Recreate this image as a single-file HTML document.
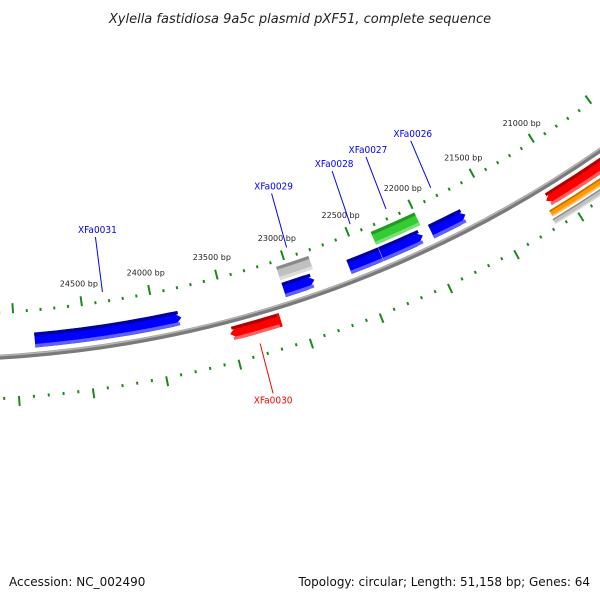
<!DOCTYPE html>
<html><head><meta charset="utf-8"><style>
html,body{margin:0;padding:0;background:#fff;}
svg{display:block;}
</style></head><body>
<svg id="map" width="600" height="600" viewBox="0 0 600 600" xmlns="http://www.w3.org/2000/svg">
<rect width="600" height="600" fill="#fff"/>
<text x="300" y="23" text-anchor="middle" font-family="DejaVu Sans, Liberation Sans, sans-serif" font-style="italic" font-size="13" fill="#222">Xylella fastidiosa 9a5c plasmid pXF51, complete sequence</text>
<text x="9" y="586" font-family="DejaVu Sans, Liberation Sans, sans-serif" font-size="12" fill="#111">Accession: NC_002490</text>
<text x="590" y="586" text-anchor="end" font-family="DejaVu Sans, Liberation Sans, sans-serif" font-size="12" fill="#111">Topology: circular; Length: 51,158 bp; Genes: 64</text>
<g id="layer"></g>
</svg>
<script>
const genomeLength = 51158;
const tickLabelValues = [21000, 21500, 22000, 22500, 23000, 23500, 24000, 24500];
const geneNames  = ["XFa0031","XFa0030","XFa0029","XFa0029b","XFa0028","XFa0027","XFa0027b","XFa0026","XFa0025","XFa0025b","XFa0025c"];
const geneStarts = [23815, 23150, 22840, 22825, 22340, 22015, 22000, 21680, 18500, 18500, 18500];
const geneEnds   = [24861, 23512, 23068, 23070, 22580, 22337, 22344, 21950, 21143, 21160, 21170];
const geneStrand = [1, -1, 1, 1, 1, 1, 1, 1, -1, -1, -1];
const geneRing   = [1, 1, 1, 2, 1, 1, 2, 1, 1, 2, 3];
const geneColor  = ["blue","red","blue","grey","blue","blue","green","blue","red","orange","grey"];
const geneArrow  = [true, true, true, false, false, true, false, true, true, false, false];
// label layout (pixel anchors for text)
const labelGene = ["XFa0031","XFa0029","XFa0028","XFa0027","XFa0026","XFa0030"];
const labelColor = ["#0000ff","#0000ff","#0000ff","#0000ff","#0000ff","#ff0000"];

const NS="http://www.w3.org/2000/svg";
const cx=-67, cy=-811;
const layer=document.getElementById('layer');
function ang(p){return (-90+360*p/genomeLength)*Math.PI/180;}
function pt(r,p){const a=ang(p);return [cx+r*Math.cos(a), cy+r*Math.sin(a)];}
function mk(tag,attrs){const e=document.createElementNS(NS,tag);for(const k in attrs)e.setAttribute(k,attrs[k]);layer.appendChild(e);return e;}
function arc(r,p1,p2){const a=pt(r,p1),b=pt(r,p2);const sweep=p2>p1?1:0;return `M${a[0]},${a[1]} A${r},${r} 0 0 ${sweep} ${b[0]},${b[1]}`;}

// backbone
let e=mk('path',{d:arc(1170,17000,27500),fill:'none',stroke:'#7a7a7a','stroke-width':5});


e=mk('path',{d:arc(1168.5,17000,27500),fill:'none',stroke:'#b5b5b5','stroke-width':1.5});



// ticks
for(let p=18000;p<=27000;p+=100){
  const major=p%500===0;
  let a=pt(major?1117:1124,p),b=pt(1127,p);
  e=mk('line',{x1:a[0],y1:a[1],x2:b[0],y2:b[1],stroke:'#1a8a1a','stroke-width':2});
  
  
  a=pt(1210,p);b=pt(major?1220:1213,p);
  e=mk('line',{x1:a[0],y1:a[1],x2:b[0],y2:b[1],stroke:'#1a8a1a','stroke-width':2});
  
  
}
tickLabelValues.forEach(v=>{
  const q=pt(1104,v);
  const t=mk('text',{x:q[0],y:q[1]+3,'text-anchor':'middle','font-family':'DejaVu Sans, Liberation Sans, sans-serif','font-size':8,fill:'#222'});
  t.textContent=v+' bp';
  
  
});

// genes
const palette={blue:['#0000ff','#0000a0','#6060ff'],red:['#ff0000','#b00000','#ff6060'],green:['#33cc33','#229922','#77e077'],grey:['#c0c0c0','#8a8a8a','#dedede'],orange:['#ff9900','#c07000','#ffc060']};
const ringR={'1':[1148,1163],'2':[1131,1145],'-1':[1176,1190],'-2':[1193,1200],'-3':[1202,1208]};
const geneEls={};
geneNames.forEach((n,i)=>{
  const rr=ringR[String(geneStrand[i]*geneRing[i])];
  const r1=rr[0],r2=rr[1],rm=(r1+r2)/2;
  let s=geneStarts[i],en=geneEnds[i];
  const head=geneArrow[i]?Math.min(60,(en-s)/3):0;
  let d;
  if(geneStrand[i]>0){ // arrow at start (lower position, right side)
    const a=pt(r1,s+head),b=pt(r2,s+head),tip=pt(rm,s);
    const o1=pt(r1,en),o2=pt(r2,en);
    d=`M${a[0]},${a[1]} A${r1},${r1} 0 0 1 ${o1[0]},${o1[1]} L${o2[0]},${o2[1]} A${r2},${r2} 0 0 0 ${b[0]},${b[1]} L${tip[0]},${tip[1]} Z`;
  }else{ // arrow at end (higher position, left side)
    const a=pt(r1,s),b=pt(r2,s),tip=pt(rm,en);
    const o1=pt(r1,en-head),o2=pt(r2,en-head);
    d=`M${a[0]},${a[1]} A${r1},${r1} 0 0 1 ${o1[0]},${o1[1]} L${tip[0]},${tip[1]} L${o2[0]},${o2[1]} A${r2},${r2} 0 0 0 ${b[0]},${b[1]} Z`;
  }
  const c=palette[geneColor[i]];
  const g=mk('g',{});
  
  
  const body=document.createElementNS(NS,'path');
  body.setAttribute('d',d);body.setAttribute('fill',c[0]);
  g.appendChild(body);
  const th=(r2-r1);
  const dark=document.createElementNS(NS,'path');
  dark.setAttribute('d',arc(r1+th*0.12,s+head*0.3,en-(geneStrand[i]<0?head*0.3:0)));
  dark.setAttribute('fill','none');dark.setAttribute('stroke',c[1]);dark.setAttribute('stroke-width',th*0.22);
  g.appendChild(dark);
  const light=document.createElementNS(NS,'path');
  light.setAttribute('d',arc(r2-th*0.12,s+head*0.3,en-(geneStrand[i]<0?head*0.3:0)));
  light.setAttribute('fill','none');light.setAttribute('stroke',c[2]);light.setAttribute('stroke-width',th*0.22);
  g.appendChild(light);
  geneEls[n]={mid:(s+en)/2,r1:r1,r2:r2,strand:geneStrand[i]};
});

// labels: line from feature ring toward text
const labelOffset=[[-7,-55],[-15,-54],[-18,-53],[-20,-52],[-20,-47],[13,50]];
labelGene.forEach((n,i)=>{
  const f=geneEls[n];
  const base=f.strand>0?pt(1116,f.mid):pt(1200,f.mid);
  const end=[base[0]+labelOffset[i][0],base[1]+labelOffset[i][1]];
  let l=mk('line',{x1:base[0],y1:base[1],x2:end[0],y2:end[1],stroke:labelColor[i],'stroke-width':1});
  
  
  const t=mk('text',{x:end[0]+(f.strand>0?2:0),y:f.strand>0?end[1]-4:end[1]+10,'text-anchor':'middle','font-family':'DejaVu Sans Condensed, DejaVu Sans, Liberation Sans, sans-serif','font-size':10,fill:labelColor[i]});
  t.textContent=n;
  
  
});
</script>
</body></html>
